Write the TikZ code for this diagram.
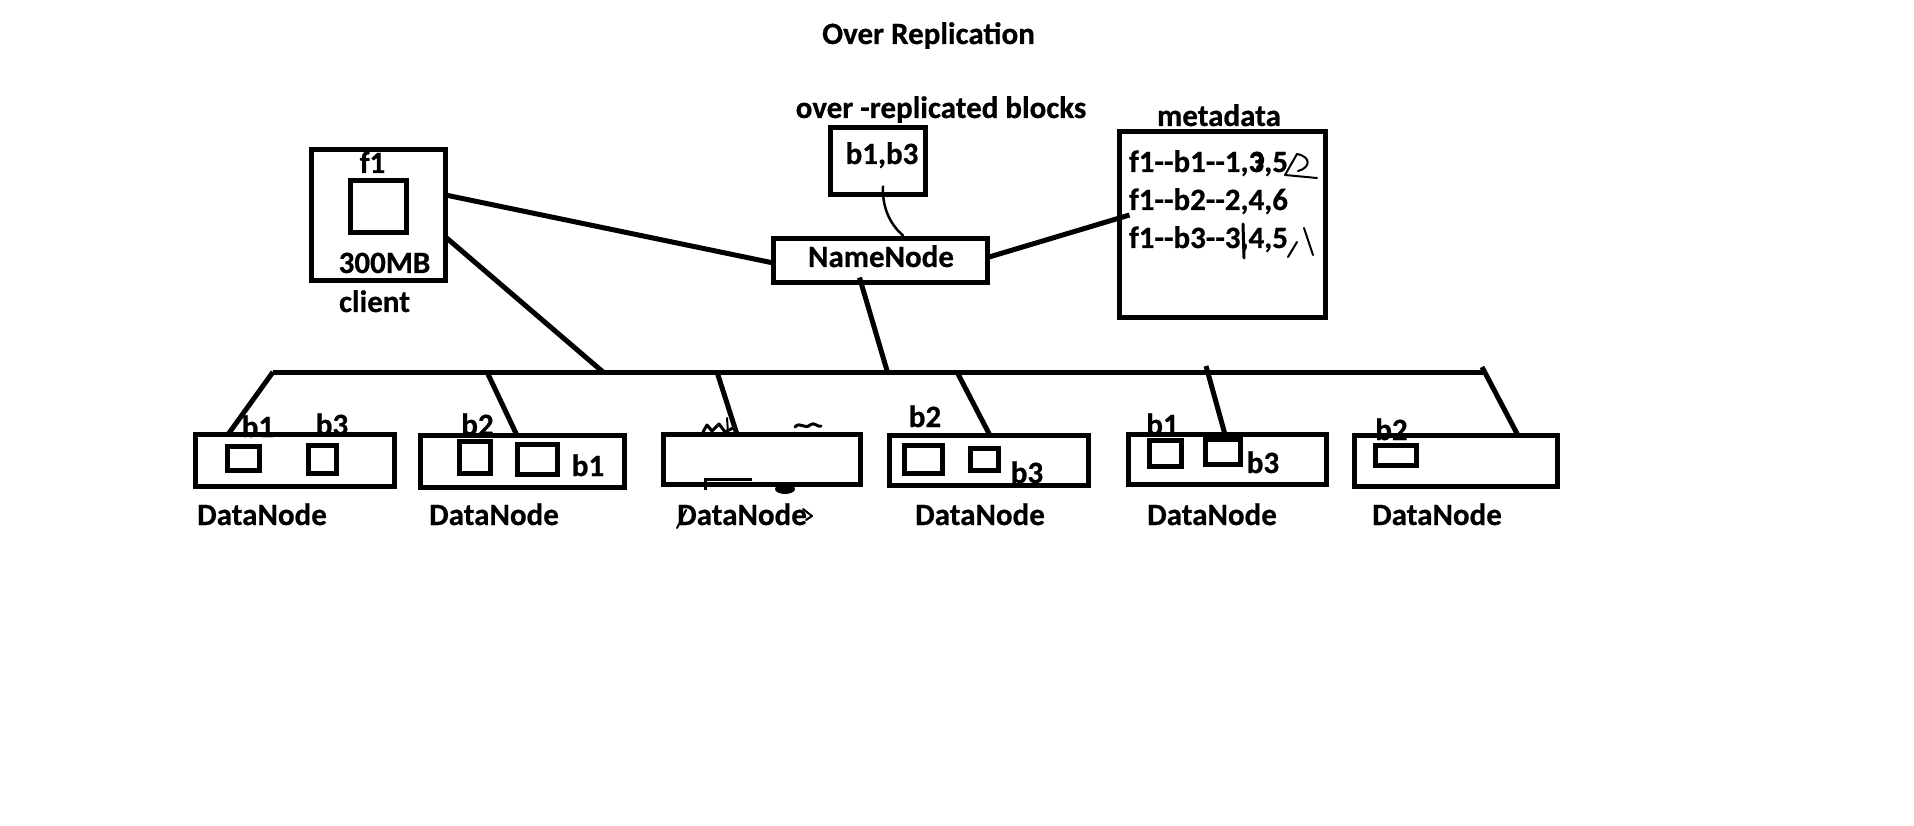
\documentclass[tikz,border=0pt]{standalone}
\usepackage{fontspec}
\setmainfont{Carlito}[BoldFeatures={FakeBold=0.6}]
\begin{document}
\begin{tikzpicture}[x=1pt,y=-1pt,
  bx/.style 2 args={draw,line width=5pt,rectangle,inner sep=0pt,outer sep=0pt,minimum width=#1pt,minimum height=#2pt},
  lbl/.style={font=\fontsize{31}{37}\selectfont\bfseries,anchor=base,inner sep=0pt,outer sep=0pt},
  lbll/.style={lbl,anchor=base west},
  conn/.style={line width=5pt},
  thin/.style={line width=2.5pt,line cap=round,line join=round},
  scrib/.style={line width=2pt,line cap=round,line join=round}]
\useasboundingbox[fill=white] (0,0) rectangle (1914,826);

% labels that sit under box edges
\node[lbl] (l1a) at (258,437) {b1};
\node[lbl] (l1b) at (332,435) {b3};
\node[lbl] (l2a) at (477.5,435) {b2};
\node[lbl] (l5a) at (1162.5,435) {b1};
\node[lbl] (l6a) at (1391.5,440) {b2};

% title and top labels
\node[lbl] (title) at (928.5,44) {Over Replication};
\node[lbl] (ovl) at (941,118) {over -replicated blocks};
\node[lbl] (mdl) at (1219,126) {metadata};

% client
\node[bx={134}{131}] (client) at (378.5,215) {};
\node[bx={56}{52}] (file) at (378.5,206.5) {};
\node[lbl] (f1) at (372.5,173) {f1};
\node[lbl] (size) at (384.5,273) {300MB};
\node[lbl] (clientl) at (374.5,312) {client};

% over-replicated box
\node[bx={95}{67}] (bb) at (878,161) {};
\node[lbl] (bbl) at (882,164) {b1,b3};

% NameNode
\node[bx={214}{44}] (nn) at (880.5,260.5) {};
\node[lbl] (nnl) at (881,267) {NameNode};

% metadata
\node[bx={206}{186}] (meta) at (1222.5,224.5) {};
\node[lbll] (m1) at (1129,172) {f1-{}-b1-{}-1,3,5};
\node[lbll] (m2) at (1129,210) {f1-{}-b2-{}-2,4,6};
\node[lbll] (m3) at (1129,248) {f1-{}-b3-{}-3,4,5};
% hand corrections in metadata
\draw[line width=4pt,line cap=round] (1255,154) .. controls (1264,154) and (1264,162) .. (1258,168);
\draw[scrib] (1297,154) -- (1285,175) -- (1317,178);
\draw[scrib] (1297,154) .. controls (1312,157) and (1310,168) .. (1298,171);
\draw[line width=3pt,line cap=round] (1243,224) -- (1244,258);
\draw[scrib] (1288,257) -- (1297,242);
\draw[scrib] (1304,228) -- (1313,255);

% DataNodes
\node[bx={199}{52}] (dn1) at (295,460.5) {};
\node[bx={204}{52}] (dn2) at (522.5,461.5) {};
\node[bx={197}{50}] (dn3) at (762,459.5) {};
\node[bx={199}{50}] (dn4) at (989,460.5) {};
\node[bx={198}{50}] (dn5) at (1227.5,459.5) {};
\node[bx={203}{51}] (dn6) at (1456,461) {};

% blocks inside DataNodes
\node[bx={32}{24}] (s1a) at (243.5,458.5) {};
\node[bx={28}{28}] (s1b) at (322.5,459.5) {};
\node[bx={31}{32}] (s2a) at (475,457.5) {};
\node[bx={40}{30}] (s2b) at (537.5,459.5) {};
\node[bx={38}{28}] (s4a) at (923.5,459.5) {};
\node[bx={28}{22}] (s4b) at (984.5,459.5) {};
\node[bx={32}{26}] (s5a) at (1165.5,453.5) {};
\node[bx={35}{25}] (s5b) at (1223,452) {};
\node[bx={41}{20}] (s6a) at (1396,455.5) {};

\node[lbl] (l2b) at (588,476) {b1};
\node[lbl] (l4a) at (925,427) {b2};
\node[lbl] (l4b) at (1027,483) {b3};
\node[lbl] (l5b) at (1263,473) {b3};

% DataNode captions
\node[lbl] (c1) at (262,525) {DataNode};
\node[lbl] (c2) at (494,525) {DataNode};
\node[lbl] (c3) at (742,525) {DataNode};
\node[lbl] (c4) at (980,525) {DataNode};
\node[lbl] (c5) at (1212,525) {DataNode};
\node[lbl] (c6) at (1437,525) {DataNode};

% scribbles around the third DataNode
\draw[line width=3pt] (705,490) -- (705,479) -- (752,479);
\fill (785,489) ellipse [x radius=10pt, y radius=5pt];
\draw[scrib,line width=3pt] (703,432) -- (707,425) -- (712,431) -- (719,424) -- (725,432) -- (733,428);
\draw[scrib] (727,418) -- (728,433);
\draw[scrib,line width=3pt] (795,427) .. controls (800,421) and (805,430) .. (810,425) .. controls (814,421) and (818,428) .. (821,426);
\draw[scrib] (677,528) -- (686,510);
\draw[scrib] (803,509) -- (812,516) -- (806,520);

% bus and taps
\coordinate (busL) at (273,372);
\coordinate (busR) at (1483,372);
\coordinate (tap2) at (487,372);
\coordinate (tap3) at (717,372);
\coordinate (tapC) at (603,372);
\coordinate (tapN) at (888,374);
\coordinate (tap4) at (957,372);
\coordinate (tap5) at (1206,366);
\coordinate (tap6) at (1482,367);
\draw[conn] (busL) -- (busR);

\draw[conn] (busL) -- ([xshift=32.5pt]dn1.north west);
\draw[conn] (tap2) -- ([xshift=96.5pt]dn2.north west);
\draw[conn] (tap3) -- ([xshift=73.5pt]dn3.north west);
\draw[conn] (tap4) -- ([xshift=100.5pt]dn4.north west);
\draw[conn] (tap5) -- ([xshift=96.5pt]dn5.north west);
\draw[conn] (tap6) -- ([xshift=163.5pt]dn6.north west);

\draw[conn] ([yshift=-22pt]client.east) -- (tapC);
\draw[conn] ([yshift=20pt]client.east) -- ([yshift=-2.5pt]nn.west);
\draw[conn] ([xshift=-21pt,yshift=5pt]nn.south) -- (tapN);
\draw[conn] ([yshift=3pt]nn.east) -- ([xshift=10pt,yshift=9.5pt]meta.west);
\draw[thin] ([xshift=5pt,yshift=8pt]bb.south) .. controls (882,210) and (892,226) .. ([xshift=22.5pt,yshift=3pt]nn.north);
\end{tikzpicture}
\end{document}
